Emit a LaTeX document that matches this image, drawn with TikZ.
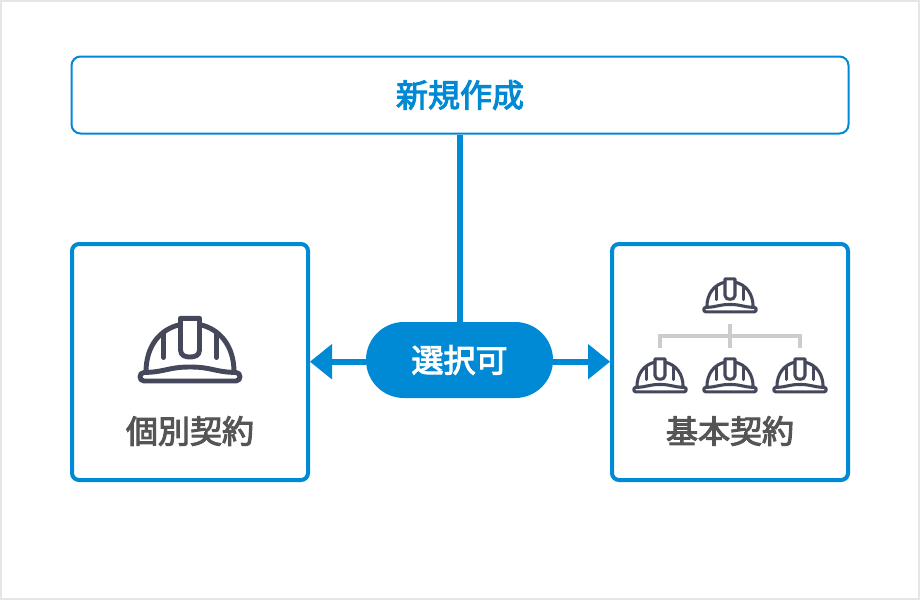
\documentclass[tikz,border=0pt]{standalone}
\usepackage{fontspec}
\newfontfamily\cjk[FakeBold=3.2]{Noto Sans CJK JP}
\definecolor{blu}{HTML}{0089D4}
\definecolor{hel}{HTML}{45475A}
\definecolor{gry}{HTML}{CCCCCC}
\definecolor{txt}{HTML}{555555}
\definecolor{frm}{HTML}{E5E5E5}
\tikzset{
  x=1pt,y=-1pt,
  hline/.style={draw=hel,line join=round,line cap=round,fill=none},
  card/.style={draw=blu,line width=4pt,rounded corners=7pt,fill=white,minimum width=236pt,minimum height=236pt,inner sep=0pt},
  topbar/.style={draw=blu,line width=2pt,rounded corners=9pt,fill=white,minimum width=777pt,minimum height=77pt,inner sep=0pt},
  pill/.style={fill=blu,rounded corners=37.9pt,minimum width=187pt,minimum height=76pt,inner sep=0pt},
  label/.style={font=\cjk\fontsize{32}{32}\selectfont,inner sep=0pt},
  link/.style={draw=blu,line width=6pt},
  tree/.style={draw=gry,line width=4pt},
  tip/.style={fill=blu},
  pics/helmet/.style={code={
    % origin: top-centre of the icon; size 104 wide at scale 1
    \draw[hline] (-46,56.5) .. controls (-24,56) and (-22,51) .. (0,51) .. controls (22,51) and (24,56) .. (46,56.5) .. controls (51.3,56.5) and (51.3,65) .. (46,65) -- (-46,65) .. controls (-51.3,65) and (-51.3,56.5) .. (-46,56.5) -- cycle;
    \draw[hline] (-44,56) .. controls (-44,30) and (-30,13) .. (-9.5,8.5);
    \draw[hline] (44,56) .. controls (44,30) and (30,13) .. (9.5,8.5);
    \draw[hline] (-9.5,34) -- (-9.5,2.3) -- (9.5,2.3) -- (9.5,34) .. controls (9.5,40) and (4,41) .. (0,41) .. controls (-4,41) and (-9.5,40) .. (-9.5,34);
    \draw[hline] (-26.5,17) -- (-26.5,41.5);
    \draw[hline] (26.5,17) -- (26.5,41.5);
  }}
}
\begin{document}
\begin{tikzpicture}
\useasboundingbox (0,0) rectangle (920,600);
\fill[white] (0,0) rectangle (920,600);
\draw[frm,line width=2pt] (1,1) rectangle (919,599);

\node[topbar] (top) at (460,95) {};
\node[label,text=blu] (toptxt) at (460,95) {新規作成};
\node[card] (left) at (190,362) {};
\node[card] (right) at (730,362) {};

\node[pill] (sel) at (459.5,360) {};
\draw[link] (top.south) -- (top.south |- sel.north);
\node[label,text=white] (seltxt) at (459.5,360) {選択可};

\coordinate (lbase) at (332,361.7);
\coordinate (rbase) at (588,361.7);
\draw[link] (sel.west |- lbase) -- (lbase);
\draw[link] (sel.east |- rbase) -- (rbase);
\fill[tip] (left.east |- lbase) -- (332,344) -- (332,379.4) -- cycle;
\fill[tip] (right.west |- rbase) -- (588,344) -- (588,379.4) -- cycle;

\node[label,text=txt] (ltxt) at (190,431) {個別契約};
\node[label,text=txt] (rtxt) at (730,431) {基本契約};

% large helmet
\pic[line width=4.9pt] at (190,316) {helmet};

% helmet tree
\coordinate (ht) at (730,324);
\coordinate (h1) at (660,348);
\coordinate (h2) at (730,348);
\coordinate (h3) at (800,348);
\coordinate (hj) at (730,336);
\draw[tree] (ht) -- (h2);
\draw[tree] (h1) -- (h1 |- hj) -- (h3 |- hj) -- (h3);

\begin{scope}[line width=3.1pt]
\pic[scale=.525] at (730,277.7) {helmet};
\pic[scale=.525] at (660,357.7) {helmet};
\pic[scale=.525] at (730,357.7) {helmet};
\pic[scale=.525] at (800,357.7) {helmet};
\end{scope}
\end{tikzpicture}
\end{document}
